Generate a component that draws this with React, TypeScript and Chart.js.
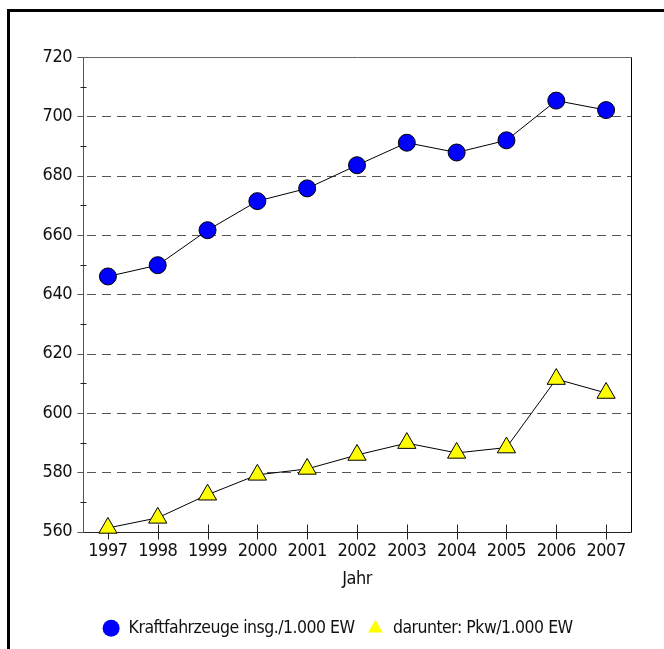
import React, { useEffect, useRef } from "react";
import { Chart, registerables } from "chart.js";

Chart.register(...registerables);

const years = ["1997", "1998", "1999", "2000", "2001", "2002", "2003", "2004", "2005", "2006", "2007"];
const kfzValues = [646.0, 649.8, 661.6, 671.4, 675.7, 683.5, 691.1, 687.8, 691.9, 705.3, 702.1];
const pkwValues = [561.2, 564.6, 572.4, 579.1, 581.1, 585.8, 589.8, 586.5, 588.3, 611.4, 606.7];
const seriesLabels = ["Kraftfahrzeuge insg./1.000 EW", "darunter: Pkw/1.000 EW"];
const yMin = 560;
const yMax = 720;
const yStep = 20;
const yMinorStep = 10;
const gridValues = [580, 600, 620, 640, 660, 680, 700];
const xTitle = "Jahr";

const FONT = "'Liberation Sans Narrow', 'DejaVu Sans Condensed', sans-serif";
const colors = ["#0000ff", "#ffff00"];
const styles = ["circle", "triangle"];
const LETTER_SPACING = "-0.5px";

const spacingPlugin = {
  id: "spacingPlugin",
  beforeInit(chart: any) {
    chart.ctx.letterSpacing = LETTER_SPACING;
  },
  beforeUpdate(chart: any) {
    chart.ctx.letterSpacing = LETTER_SPACING;
  },
  beforeLayout(chart: any) {
    chart.ctx.letterSpacing = LETTER_SPACING;
  },
  afterLayout(chart: any) {
    const lg = chart.legend;
    if (lg) {
      lg.left += 22;
      lg.right += 22;
    }
  },
  beforeDraw(chart: any) {
    chart.ctx.letterSpacing = LETTER_SPACING;
  },
};

const framePlugin = {
  id: "framePlugin",
  beforeDatasetsDraw(chart: any) {
    const { ctx, chartArea } = chart;
    const { left, right, top, bottom } = chartArea;
    const x = chart.scales.x;
    const y = chart.scales.y;
    ctx.save();
    ctx.lineWidth = 1;
    ctx.strokeStyle = "#555";
    ctx.setLineDash([9, 6]);
    for (const v of gridValues) {
      const py = Math.round(y.getPixelForValue(v)) + 0.5;
      ctx.beginPath();
      ctx.moveTo(left + 4, py);
      ctx.lineTo(right, py);
      ctx.stroke();
    }
    ctx.setLineDash([]);
    const L = Math.round(left) + 0.5;
    const R = Math.round(right) + 0.5;
    const T = Math.round(top) + 0.5;
    const B = Math.round(bottom) + 0.5;
    ctx.strokeStyle = "#666";
    ctx.beginPath();
    ctx.moveTo(L, T);
    ctx.lineTo(R, T);
    ctx.stroke();
    ctx.strokeStyle = "#000";
    ctx.beginPath();
    ctx.moveTo(R, T);
    ctx.lineTo(R, B);
    ctx.stroke();
    ctx.strokeStyle = "#555";
    ctx.beginPath();
    ctx.moveTo(L, T);
    ctx.lineTo(L, B);
    ctx.stroke();
    for (let v = yMin; v <= yMax; v += yStep) {
      const py = Math.round(y.getPixelForValue(v)) + 0.5;
      ctx.beginPath();
      ctx.moveTo(L - 6, py);
      ctx.lineTo(L, py);
      ctx.stroke();
    }
    ctx.strokeStyle = "#222";
    for (let v = yMin + yMinorStep; v < yMax; v += yStep) {
      const py = Math.round(y.getPixelForValue(v)) + 0.5;
      ctx.beginPath();
      ctx.moveTo(L - 3, py);
      ctx.lineTo(L + 3, py);
      ctx.stroke();
    }
    ctx.strokeStyle = "#222";
    ctx.beginPath();
    ctx.moveTo(L, B);
    ctx.lineTo(R, B);
    ctx.stroke();
    for (let i = 0; i < years.length; i++) {
      const px = Math.round(x.getPixelForValue(i)) + 0.5;
      ctx.beginPath();
      ctx.moveTo(px, B - 8);
      ctx.lineTo(px, B + 7);
      ctx.stroke();
    }
    ctx.restore();
  },
};

export default function App() {
  const ref = useRef<HTMLCanvasElement | null>(null);

  useEffect(() => {
    if (!ref.current) return;
    const chart = new Chart(ref.current, {
      type: "line",
      data: {
        labels: years,
        datasets: [
          {
            label: seriesLabels[0],
            data: kfzValues,
            borderColor: "#000",
            borderWidth: 1,
            backgroundColor: colors[0],
            pointStyle: "circle",
            pointRadius: 8.5,
            pointBackgroundColor: colors[0],
            pointBorderColor: "#000",
            pointBorderWidth: 1,
            tension: 0,
            clip: false,
          },
          {
            label: seriesLabels[1],
            data: pkwValues,
            borderColor: "#000",
            borderWidth: 1,
            backgroundColor: colors[1],
            pointStyle: "triangle",
            pointRadius: 10.5,
            pointBackgroundColor: colors[1],
            pointBorderColor: "#000",
            pointBorderWidth: 1,
            tension: 0,
            clip: false,
          },
        ],
      },
      options: {
        responsive: false,
        animation: false,
        devicePixelRatio: 1,
        layout: { padding: { left: 0, right: 33, top: 57, bottom: 2 } },
        plugins: {
          tooltip: { enabled: false },
          legend: {
            position: "bottom",
            labels: {
              usePointStyle: true,
              boxHeight: 12,
              padding: 12,
              color: "#111",
              font: { family: FONT, size: 17.5 },
              generateLabels: (c: any) => {
                const items = (Chart.defaults.plugins.legend.labels as any).generateLabels(c);
                return items.map((it: any, i: number) => ({
                  ...it,
                  fillStyle: colors[i],
                  strokeStyle: colors[i],
                  lineWidth: 0,
                  pointStyle: styles[i],
                }));
              },
            },
          },
        },
        scales: {
          x: {
            type: "category",
            offset: true,
            grid: { display: false, drawTicks: false },
            border: { display: false },
            ticks: {
              color: "#111",
              padding: 9,
              maxRotation: 0,
              autoSkip: false,
              font: { family: FONT, size: 18 },
            },
            title: {
              display: true,
              text: xTitle,
              color: "#111",
              font: { family: FONT, size: 18 },
              padding: { top: 0, bottom: 17 },
            },
            afterFit: (s: any) => {
              s.height = 76;
            },
          },
          y: {
            min: yMin,
            max: yMax,
            grid: { display: false, drawTicks: false },
            border: { display: false },
            ticks: {
              stepSize: yStep,
              color: "#111",
              padding: 11,
              font: { family: FONT, size: 18 },
            },
            afterFit: (s: any) => {
              s.width = 83;
            },
          },
        },
      },
      plugins: [spacingPlugin, framePlugin],
    });
    return () => chart.destroy();
  }, []);

  return (
    <div style={{ position: "fixed", left: 0, top: 0, width: 664, height: 649, overflow: "hidden", background: "#fff" }}>
      <div
        style={{
          position: "absolute",
          left: 7,
          top: 9,
          width: 720,
          height: 720,
          border: "3px solid #000",
          boxSizing: "border-box",
        }}
      />
      <canvas
        ref={ref}
        width={664}
        height={649}
        style={{ position: "absolute", left: 0, top: 0, width: 664, height: 649 }}
      />
    </div>
  );
}
